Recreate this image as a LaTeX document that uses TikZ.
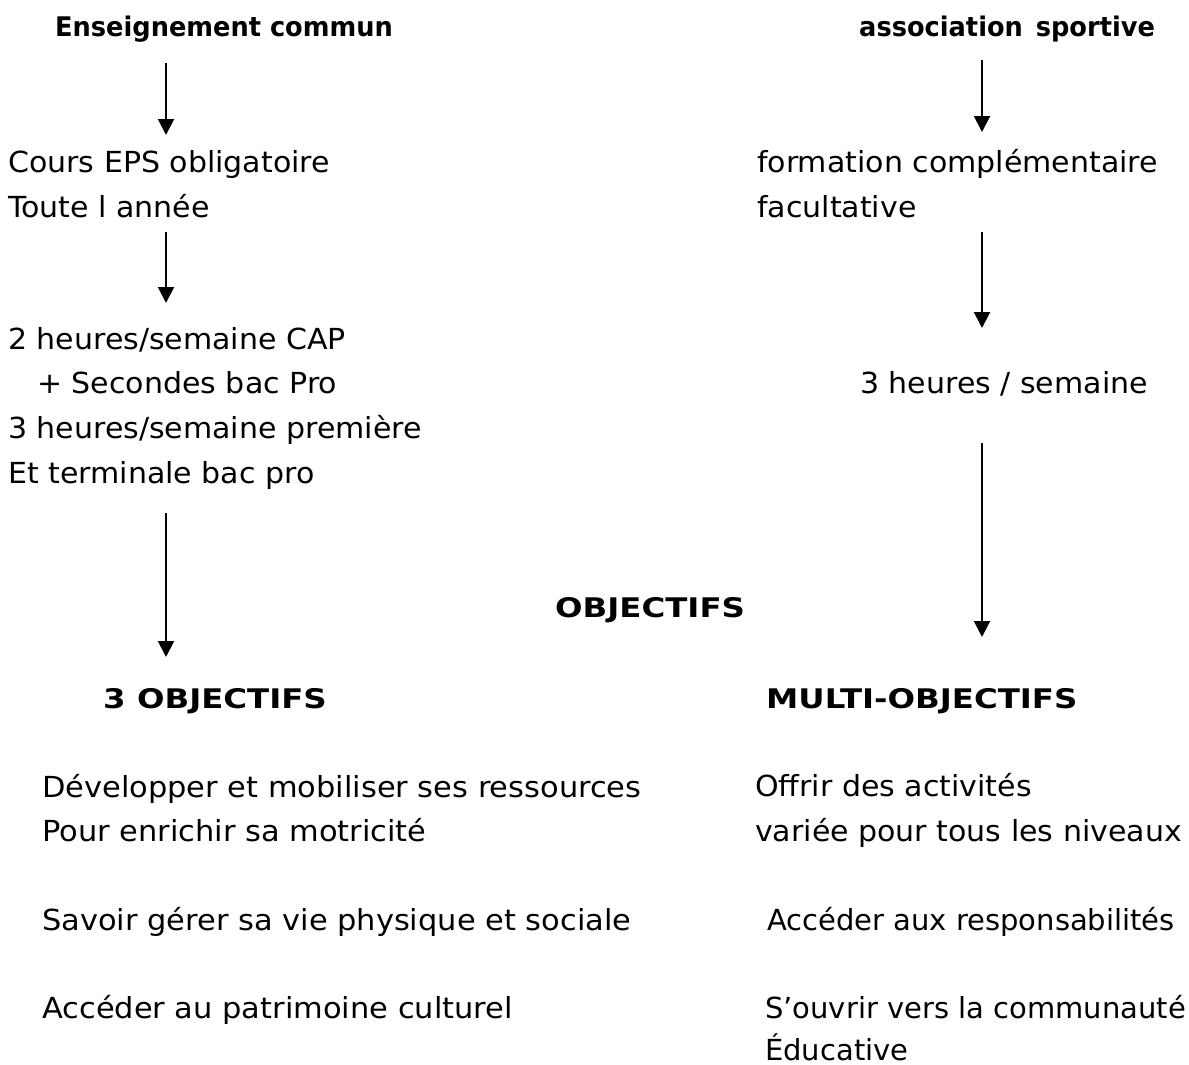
\documentclass[tikz,border=0pt]{standalone}
\usepackage{fontspec}
\setmainfont[FakeStretch=1.035]{DejaVu Sans}
\newfontfamily\plainfont{DejaVu Sans}
\newfontfamily\condfont[FakeStretch=1.05]{DejaVu Sans}
\newfontfamily\capsfont[FakeStretch=1.2]{DejaVu Sans}
\newfontfamily\lowbfont[FakeStretch=0.95]{DejaVu Sans}
\usetikzlibrary{arrows.meta}
\begin{document}
\begin{tikzpicture}[x=1pt,y=-1pt,
  txt/.style={anchor=base west,inner sep=0pt,font=\fontsize{29}{35}\selectfont},
  rtxt/.style={anchor=base west,inner sep=0pt,font=\plainfont\fontsize{29}{35}\selectfont},
  ctxt/.style={anchor=base west,inner sep=0pt,font=\condfont\fontsize{29}{35}\selectfont},
  btxt/.style={anchor=base west,inner sep=0pt,font=\lowbfont\bfseries\fontsize{27}{33}\selectfont},
  bcaps/.style={anchor=base west,inner sep=0pt,font=\capsfont\bfseries\fontsize{27}{33}\selectfont},
  arr/.style={line width=2pt,-{Triangle[width=16pt,length=16pt]}}]
\useasboundingbox[fill=white] (0,0) rectangle (1189,1065);
% left column
\node[btxt] (ens) at (55,37) {Enseignement commun};
\node[txt] (cours) at (8,172) {Cours EPS obligatoire};
\node[txt] (toute) at (8,217) {Toute l année};
\node[txt] (h2) at (8,349) {2 heures/semaine CAP};
\node[txt] (sec) at (37,393) {+ Secondes bac Pro};
\node[txt] (h3) at (8,438) {3 heures/semaine première};
\node[txt] (term) at (8,483) {Et terminale bac pro};
\node[bcaps] (obj3) at (103,708) {3 OBJECTIFS};
\node[ctxt] (l1) at (42,797) {Développer et mobiliser ses ressources};
\node[ctxt] (l2) at (42,841) {Pour enrichir sa motricité};
\node[ctxt] (l3) at (42,930) {Savoir gérer sa vie physique et sociale};
\node[ctxt] (l4) at (42,1018) {Accéder au patrimoine culturel};
% right column
\node[btxt] (asso) at (859,37) {association\hspace{4pt} sportive};
\node[txt] (form) at (757,172) {formation complémentaire};
\node[txt] (fac) at (757,217) {facultative};
\node[txt] (h3r) at (860,393) {3 heures / semaine};
\node[bcaps] (multi) at (766,708) {MULTI-OBJECTIFS};
\node[txt] (r1) at (755,796) {Offrir des activités};
\node[txt] (r2) at (755,841) {variée pour tous les niveaux};
\node[rtxt] (r3) at (767,930) {Accéder aux responsabilités};
\node[rtxt] (r4) at (765,1018) {S’ouvrir vers la communauté};
\node[rtxt] (r5) at (765,1060) {Éducative};
% centre
\node[bcaps] (obj) at (555,617) {OBJECTIFS};
% arrow ends
\coordinate (a1s) at (166,63);  \coordinate (a1e) at (166,135);
\coordinate (a2s) at (166,232); \coordinate (a2e) at (166,303);
\coordinate (a3s) at (166,513); \coordinate (a3e) at (166,657);
\coordinate (b1s) at (982,60);  \coordinate (b1e) at (982,132);
\coordinate (b2s) at (982,232); \coordinate (b2e) at (982,328);
\coordinate (b3s) at (982,443); \coordinate (b3e) at (982,637);
\draw[arr] (a1s) -- (a1e);
\draw[arr] (a2s) -- (a2e);
\draw[arr] (a3s) -- (a3e);
\draw[arr] (b1s) -- (b1e);
\draw[arr] (b2s) -- (b2e);
\draw[arr] (b3s) -- (b3e);
\end{tikzpicture}
\end{document}
